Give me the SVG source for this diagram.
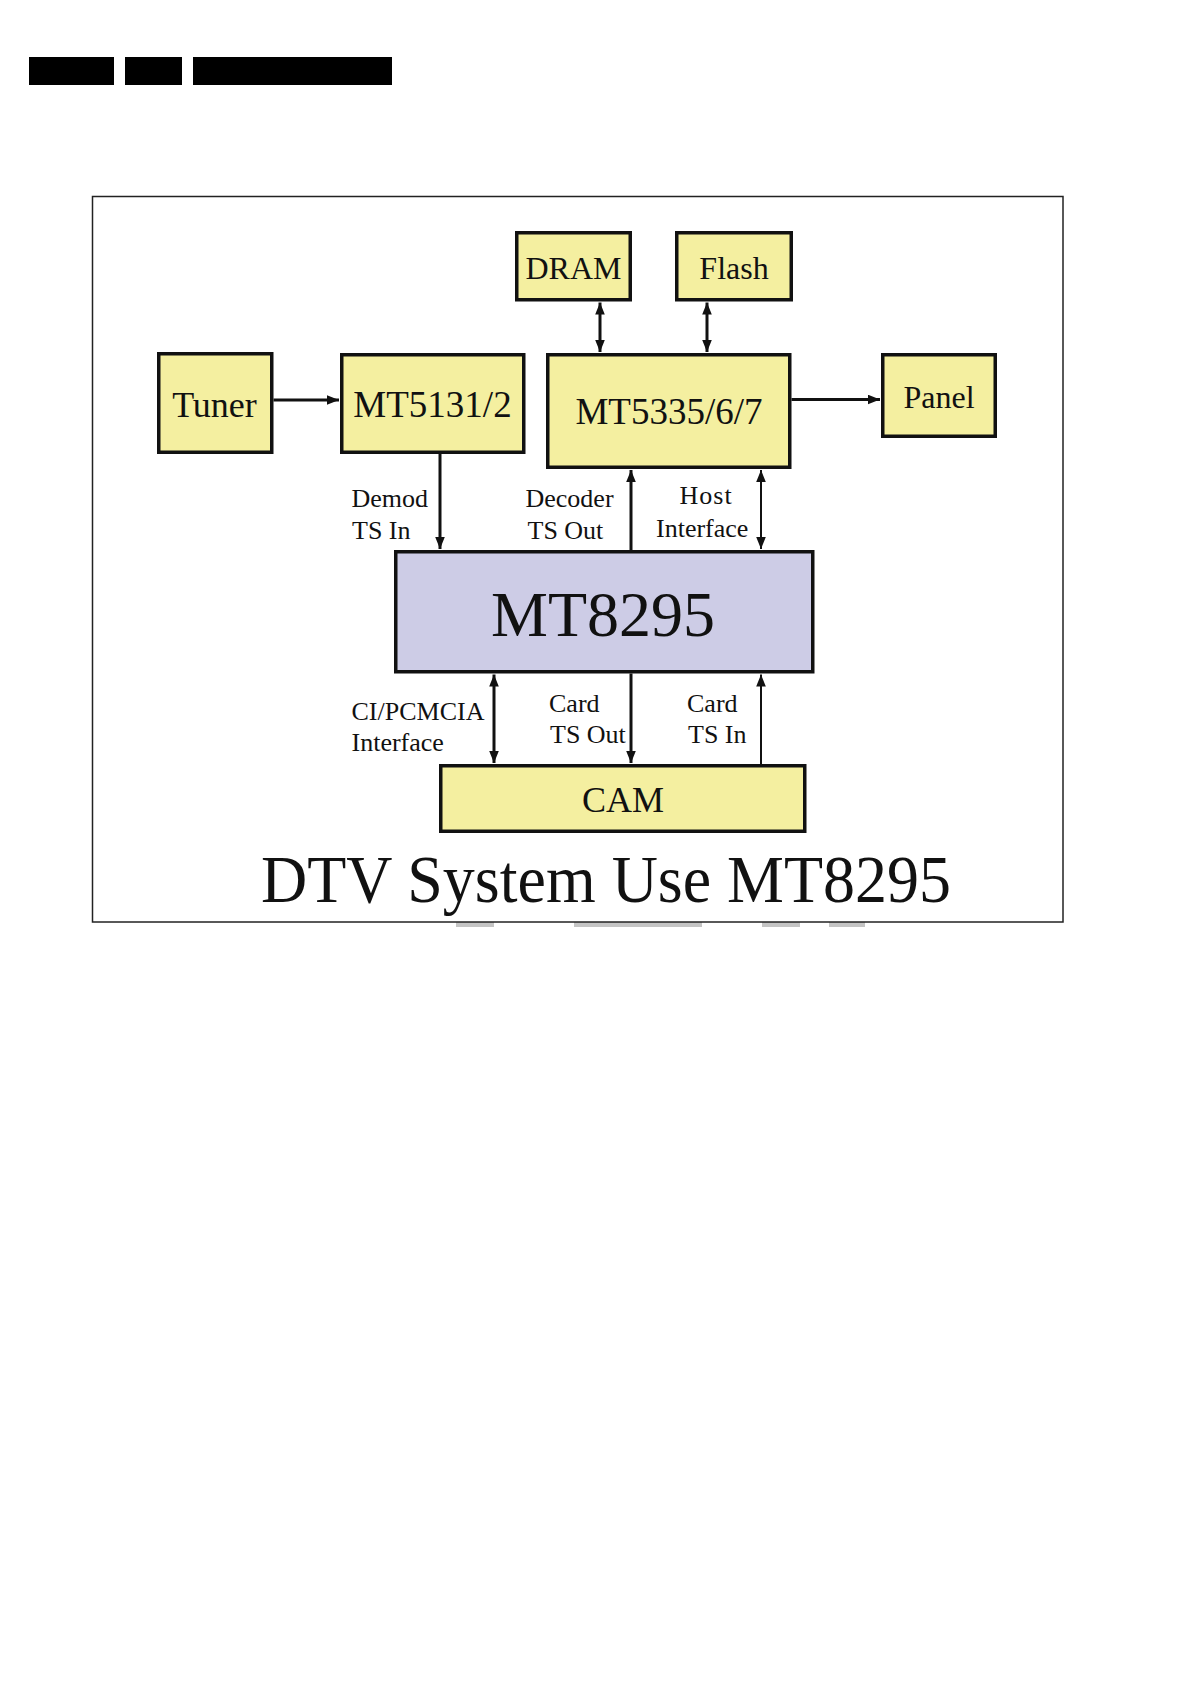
<svg xmlns="http://www.w3.org/2000/svg" width="1192" height="1685" viewBox="0 0 1192 1685">
<style>
.box{fill:#F4EFA0;stroke:#111;stroke-width:3.5}
.chip{fill:#CDCCE6;stroke:#111;stroke-width:3.5}
.t{font-family:"Liberation Serif","Times New Roman",serif;fill:#111}
.lbl{font-size:26px}
.con{stroke:#111;stroke-width:3;fill:none}
.thin{stroke-width:2}
</style>
<defs>
<marker id="ah" markerUnits="userSpaceOnUse" markerWidth="12" markerHeight="10" refX="10" refY="4" orient="auto-start-reverse" viewBox="0 0 10 8">
<path d="M0,0 L10,4 L0,8 z" fill="#111"/>
</marker>
</defs>
<rect width="1192" height="1685" fill="#fff"/>
<g id="header">
<rect x="29" y="57" width="85" height="28" fill="#000"/>
<rect x="125" y="57" width="57" height="28" fill="#000"/>
<rect x="193" y="57" width="199" height="28" fill="#000"/>
</g>
<g id="frame">
<rect x="456" y="922" width="38" height="5" fill="#c4c4c4"/>
<rect x="574" y="922" width="128" height="5" fill="#c4c4c4"/>
<rect x="762" y="922" width="38" height="5" fill="#c4c4c4"/>
<rect x="829" y="922" width="36" height="5" fill="#c4c4c4"/>
<rect x="92.5" y="196.5" width="970.5" height="725.5" fill="none" stroke="#222" stroke-width="1.5"/>
</g>
<g id="connectors">
<line class="con" x1="273.5" y1="400" x2="339" y2="400" marker-end="url(#ah)"/>
<line class="con" x1="600" y1="302.5" x2="600" y2="352" marker-start="url(#ah)" marker-end="url(#ah)"/>
<line class="con" x1="707" y1="302.5" x2="707" y2="352" marker-start="url(#ah)" marker-end="url(#ah)"/>
<line class="con" x1="791.5" y1="399.5" x2="880" y2="399.5" marker-end="url(#ah)"/>
<line class="con" x1="440" y1="454" x2="440" y2="549" marker-end="url(#ah)"/>
<line class="con" x1="631" y1="550" x2="631" y2="470" marker-end="url(#ah)"/>
<line class="con thin" x1="761" y1="470" x2="761" y2="549" marker-start="url(#ah)" marker-end="url(#ah)"/>
<line class="con" x1="494" y1="674.5" x2="494" y2="763" marker-start="url(#ah)" marker-end="url(#ah)"/>
<line class="con" x1="631" y1="673.5" x2="631" y2="763" marker-end="url(#ah)"/>
<line class="con thin" x1="761" y1="764" x2="761" y2="674.5" marker-end="url(#ah)"/>
</g>
<g id="dram">
<rect class="box" x="516.75" y="232.75" width="113.5" height="67"/>
<text class="t" x="573.5" y="279" font-size="32" text-anchor="middle">DRAM</text>
</g>
<g id="flash">
<rect class="box" x="676.75" y="232.75" width="114.5" height="67"/>
<text class="t" x="734" y="279" font-size="32" text-anchor="middle">Flash</text>
</g>
<g id="tuner">
<rect class="box" x="158.75" y="353.75" width="113" height="98.5"/>
<text class="t" x="214.5" y="417" font-size="36" text-anchor="middle">Tuner</text>
</g>
<g id="mt5131">
<rect class="box" x="341.75" y="354.75" width="182" height="97.5"/>
<text class="t" x="432.5" y="417" font-size="37" text-anchor="middle">MT5131/2</text>
</g>
<g id="mt5335">
<rect class="box" x="547.75" y="354.75" width="242" height="112.5"/>
<text class="t" x="669" y="423.5" font-size="37" text-anchor="middle">MT5335/6/7</text>
</g>
<g id="panel">
<rect class="box" x="882.75" y="354.75" width="112.5" height="81.5"/>
<text class="t" x="939" y="407.5" font-size="32" text-anchor="middle">Panel</text>
</g>
<g id="mt8295">
<rect class="chip" x="395.75" y="551.75" width="417" height="120"/>
<text class="t" x="603" y="635.5" font-size="64" text-anchor="middle">MT8295</text>
</g>
<g id="cam">
<rect class="box" x="440.75" y="765.75" width="364" height="65.5"/>
<text class="t" x="623" y="811.5" font-size="36" text-anchor="middle">CAM</text>
</g>
<g id="labels">
<text class="t lbl" x="351.5" y="507">Demod</text>
<text class="t lbl" x="352" y="538.5">TS In</text>
<text class="t lbl" x="525.5" y="507">Decoder</text>
<text class="t lbl" x="527.5" y="538.5">TS Out</text>
<text class="t lbl" x="679.5" y="503.5" letter-spacing="1">Host</text>
<text class="t lbl" x="656" y="537">Interface</text>
<text class="t lbl" x="351.5" y="720">CI/PCMCIA</text>
<text class="t lbl" x="351.5" y="751">Interface</text>
<text class="t lbl" x="549" y="712">Card</text>
<text class="t lbl" x="550" y="743">TS Out</text>
<text class="t lbl" x="687" y="712">Card</text>
<text class="t lbl" x="688" y="743">TS In</text>
</g>
<g id="title">
<text class="t" x="261" y="902" font-size="68" textLength="690" lengthAdjust="spacingAndGlyphs">DTV System Use MT8295</text>
</g>
</svg>
